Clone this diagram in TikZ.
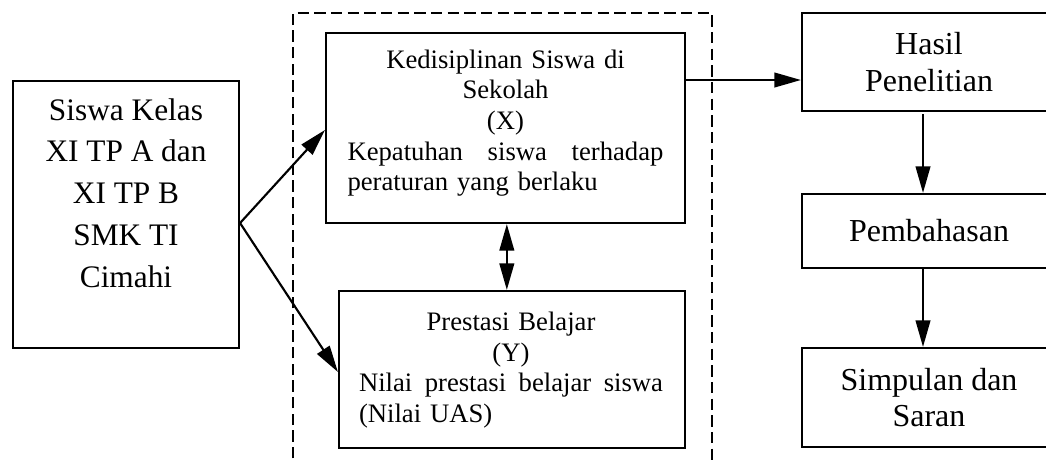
\documentclass[tikz,border=0pt]{standalone}
\usepackage{fontspec}
\setmainfont{Liberation Serif}
\usetikzlibrary{arrows.meta}
\begin{document}
\begin{tikzpicture}[x=0.75pt,y=-0.75pt,
  box/.style={draw,line width=1.6pt,rectangle,inner sep=0pt},
  arr/.style={line width=1.6pt,-{Triangle[length=20pt,width=11pt]}},
  darr/.style={line width=1.6pt,{Triangle[length=20pt,width=11pt]}-{Triangle[length=20pt,width=11pt]}},
  dbox/.style={line width=1.4pt,dash pattern=on 8.5pt off 4pt},
  bigtxt/.style={font={\fontsize{23.5pt}{31.3pt}\selectfont},align=center,inner sep=0pt},
  rtxt/.style={font={\fontsize{24pt}{27.5pt}\selectfont},align=center},
  midtxt/.style={font={\fontsize{20pt}{23pt}\selectfont},inner sep=0pt}
]
\clip (0,0) rectangle (1046,462);
\fill[white] (0,0) rectangle (1046,462);
% dashed frame
\draw[dbox] (293,475) -- (293,13) -- (712,13) -- (712,475);
% left box
\node[box,minimum width=169.5pt,minimum height=200.25pt] (left) at (126,214.5) {};
\node[bigtxt] (lefttxt) at (126,193) {Siswa Kelas\\XI TP A dan\\XI TP B\\SMK TI\\Cimahi};
% X box
\node[box,minimum width=269.25pt,minimum height=142.5pt] (X) at (505.5,128) {};
\node[midtxt,text width=237pt,align=center] (Xtxt) at (505.5,123)
  {Kedisiplinan Siswa di\\Sekolah\\(X)\\\leavevmode\hbox to 237pt{Kepatuhan\hfill siswa\hfill terhadap}\\\leavevmode\hbox to 237pt{peraturan yang berlaku\hfill}};
% Y box
\node[box,minimum width=259.5pt,minimum height=117.75pt] (Y) at (512,369.5) {};
\node[midtxt,text width=228pt,align=center] (Ytxt) at (511,370)
  {Prestasi Belajar\\(Y)\\\leavevmode\hbox to 228pt{Nilai\hfill prestasi\hfill belajar\hfill siswa}\\\leavevmode\hbox to 228pt{(Nilai UAS)\hfill}};
% right boxes
\node[box,rtxt,minimum width=190.5pt,minimum height=73.5pt] (hasil) at (929,62) {Hasil\\Penelitian};
\node[box,rtxt,minimum width=190.5pt,minimum height=55.5pt] (pemb) at (929,231) {Pembahasan};
\node[box,rtxt,minimum width=190.5pt,minimum height=74.25pt] (simp) at (929,397.5) {Simpulan dan\\Saran};
% connectors
\draw[arr] ([yshift=-6.4pt]left.east) -- ([yshift=-1.5pt]X.west);
\draw[arr] ([yshift=-6.4pt]left.east) -- ([yshift=-1.9pt]Y.west);
\draw[darr] ([xshift=1pt]X.south) -- ([xshift=1pt]X.south |- Y.north);
\draw[arr] ([yshift=36pt]X.east) -- ([yshift=36pt]X.east -| hasil.west);
\draw[arr] ([xshift=-4.5pt,yshift=-1.5pt]hasil.south) -- ([xshift=-4.5pt]pemb.north);
\draw[arr] ([xshift=-4.5pt]pemb.south) -- ([xshift=-4.5pt]simp.north);
\end{tikzpicture}
\end{document}
